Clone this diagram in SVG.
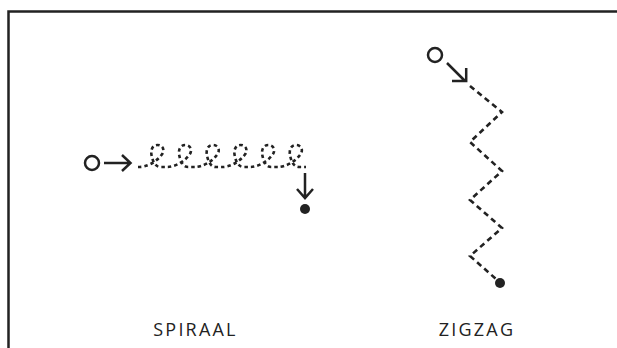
<svg xmlns="http://www.w3.org/2000/svg" width="617" height="348" viewBox="0 0 617 348">
<style>
.ln{fill:none;stroke:#222;stroke-width:2.5;stroke-linecap:butt;stroke-linejoin:miter}
.dash{fill:none;stroke:#222;stroke-width:2.6;stroke-dasharray:3.5 3}
.dashz{fill:none;stroke:#222;stroke-width:2.6;stroke-dasharray:5.5 4}
.open{fill:#fff;stroke:#222;stroke-width:2.5}
.dot{fill:#222}
.lbl{font-family:"Open Sans","DejaVu Sans",sans-serif;font-size:18px;letter-spacing:2.2px;fill:#222;text-anchor:middle}
</style>
<rect width="617" height="348" fill="#fff"/>
<path class="ln" d="M8.5,348 V11.5 H617"/>
<g id="spiraal">
  <circle class="open" cx="92" cy="163" r="7"/>
  <g id="connectors-spiraal">
    <path class="ln" d="M104,163 H130 M122,155 L130.5,163 L122,171"/>
    <path class="dash" d="M138,167 L139.8,167
      C145.5,167 155.5,163 161.5,155 C165.5,150 162.5,145 157.5,145 C152.5,145 150.5,150 151.5,155 C152.5,160 154.5,167 160.5,167 L167.5,167
      C173.2,167 183.2,163 189.2,155 C193.2,150 190.2,145 185.2,145 C180.2,145 178.2,150 179.2,155 C180.2,160 182.2,167 188.2,167 L195.2,167
      C200.9,167 210.9,163 216.9,155 C220.9,150 217.9,145 212.9,145 C207.9,145 205.9,150 206.9,155 C207.9,160 209.9,167 215.9,167 L222.9,167
      C228.6,167 238.6,163 244.6,155 C248.6,150 245.6,145 240.6,145 C235.6,145 233.6,150 234.6,155 C235.6,160 237.6,167 243.6,167 L250.6,167
      C256.3,167 266.3,163 272.3,155 C276.3,150 273.3,145 268.3,145 C263.3,145 261.3,150 262.3,155 C263.3,160 265.3,167 271.3,167 L278.3,167
      C284,167 294,163 300,155 C304,150 301,145 296,145 C291,145 289,150 290,155 C291,160 293,167 299,167 L306,167"/>
    <path class="ln" d="M305,173 V198 M297,189 L305,198 L313,189"/>
  </g>
  <circle class="dot" cx="305" cy="209" r="5"/>
  <text class="lbl" x="195.5" y="336">SPIRAAL</text>
</g>
<g id="zigzag">
  <circle class="open" cx="435" cy="55" r="7"/>
  <g id="connectors-zigzag">
    <path class="ln" d="M447,63 L465,81 M452,81 H466.2 V68"/>
    <path class="dashz" d="M470,86 L502,112 L470,142 L502,171 L470,200 L502,228 L470,256 L496,279"/>
  </g>
  <circle class="dot" cx="500" cy="283" r="5"/>
  <text class="lbl" x="477" y="336">ZIGZAG</text>
</g>
</svg>
